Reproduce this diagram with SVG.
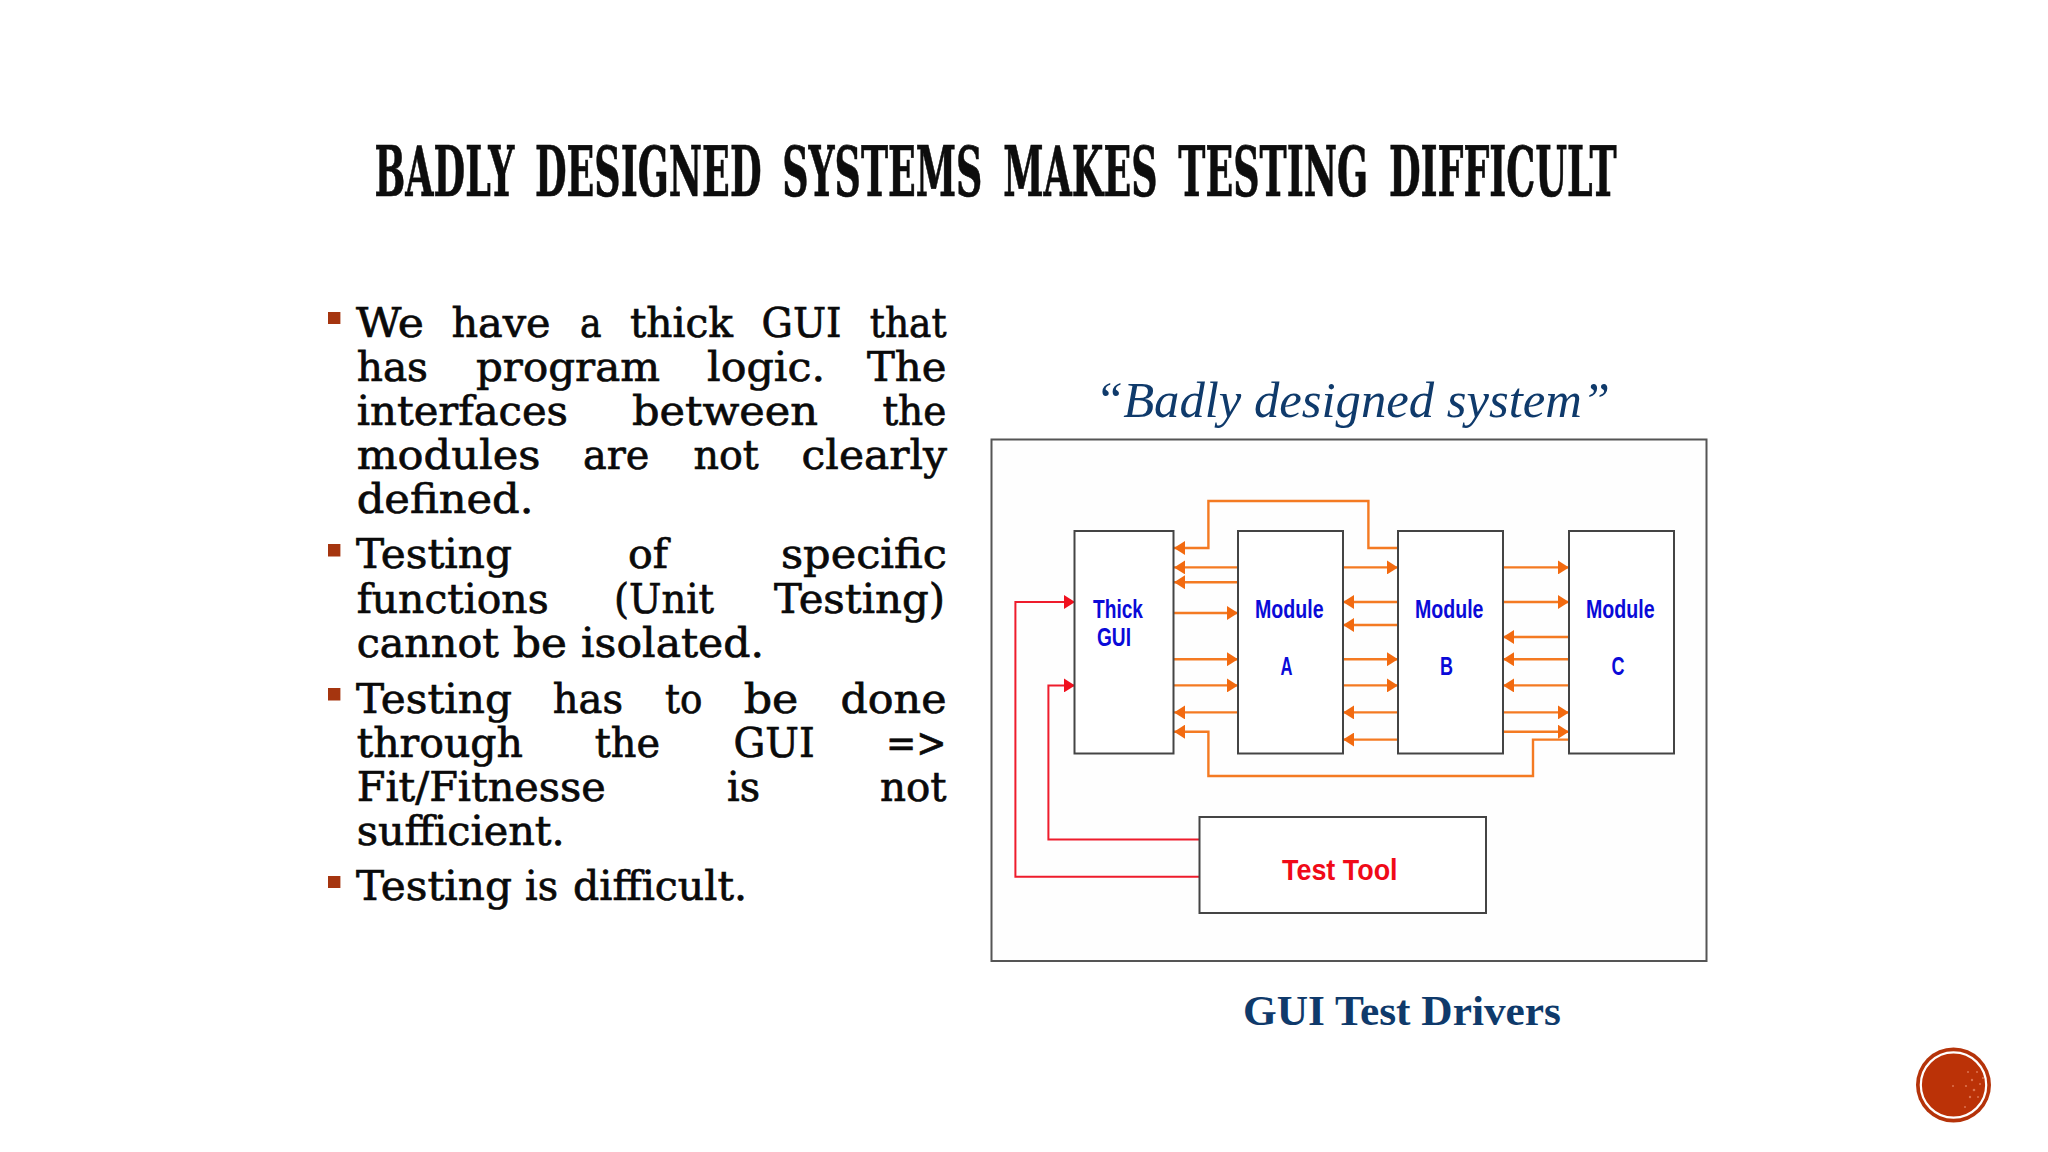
<svg xmlns="http://www.w3.org/2000/svg" width="2048" height="1152" viewBox="0 0 2048 1152">
<style>
.t{font-family:"DejaVu Serif",serif;font-weight:700;font-stretch:condensed;font-size:70px;fill:#0d0d0d;stroke:#0d0d0d;stroke-width:.7;word-spacing:14px}
.b{font-family:"DejaVu Serif",serif;font-size:41px;fill:#0a0a0a;stroke:#0a0a0a;stroke-width:.7}
.bu{fill:#a5350f}
.box{fill:#fff;stroke:#444;stroke-width:2}
.l{font-family:"Liberation Sans",Arial,sans-serif;font-weight:700;font-size:25px;fill:#0a0ad8}
.o{fill:none;stroke:#f47a22;stroke-width:2.4}
.r{fill:none;stroke:#ee1c2c;stroke-width:2}
.cap{font-family:"Liberation Serif","Times New Roman",serif;fill:#0f3a6b}
</style>
<defs>
<marker id="ao" markerUnits="userSpaceOnUse" markerWidth="12" markerHeight="14" refX="11" refY="7" orient="auto"><path d="M0 0L11 7L0 14Z" fill="#f26a10"/></marker>
<marker id="ar" markerUnits="userSpaceOnUse" markerWidth="12" markerHeight="14" refX="11" refY="7" orient="auto"><path d="M0 0L11 7L0 14Z" fill="#f0101e"/></marker>
</defs>
<rect width="2048" height="1152" fill="#fff"/>
<g id="title">
<text class="t" transform="translate(374.5 196) scale(.68 1)" x="0" y="0" textLength="1826.5" lengthAdjust="spacingAndGlyphs">BADLY DESIGNED SYSTEMS MAKES TESTING DIFFICULT</text>
</g>
<g id="bullets">
<rect class="bu" x="328" y="312" width="12.4" height="12"/>
<rect class="bu" x="328" y="544" width="12.4" height="12.5"/>
<rect class="bu" x="328" y="688" width="12.4" height="12.5"/>
<rect class="bu" x="328" y="876" width="12.4" height="12"/>
</g>
<g id="body">
<text class="b" y="336.7"><tspan x="356" textLength="68" lengthAdjust="spacingAndGlyphs">We</tspan> <tspan x="451.4" textLength="99.2" lengthAdjust="spacingAndGlyphs">have</tspan> <tspan x="580" textLength="21.6" lengthAdjust="spacingAndGlyphs">a</tspan> <tspan x="630" textLength="103" lengthAdjust="spacingAndGlyphs">thick</tspan> <tspan x="761.6" textLength="80" lengthAdjust="spacingAndGlyphs">GUI</tspan> <tspan x="869.8" textLength="76.7" lengthAdjust="spacingAndGlyphs">that</tspan></text>
<text class="b" y="381"><tspan x="356.7" textLength="71.3" lengthAdjust="spacingAndGlyphs">has</tspan> <tspan x="476" textLength="184" lengthAdjust="spacingAndGlyphs">program</tspan> <tspan x="707" textLength="118" lengthAdjust="spacingAndGlyphs">logic.</tspan> <tspan x="867" textLength="79.5" lengthAdjust="spacingAndGlyphs">The</tspan></text>
<text class="b" y="425"><tspan x="356.7" textLength="211.3" lengthAdjust="spacingAndGlyphs">interfaces</tspan> <tspan x="632" textLength="186" lengthAdjust="spacingAndGlyphs">between</tspan> <tspan x="882.4" textLength="64.1" lengthAdjust="spacingAndGlyphs">the</tspan></text>
<text class="b" y="469.3"><tspan x="356.7" textLength="183.7" lengthAdjust="spacingAndGlyphs">modules</tspan> <tspan x="583" textLength="66.4" lengthAdjust="spacingAndGlyphs">are</tspan> <tspan x="693.5" textLength="65.3" lengthAdjust="spacingAndGlyphs">not</tspan> <tspan x="801.6" textLength="145.4" lengthAdjust="spacingAndGlyphs">clearly</tspan></text>
<text class="b" y="513.3" x="356.7" textLength="176.8" lengthAdjust="spacingAndGlyphs">defined.</text>
<text class="b" y="568.3"><tspan x="356" textLength="156" lengthAdjust="spacingAndGlyphs">Testing</tspan> <tspan x="628" textLength="40" lengthAdjust="spacingAndGlyphs">of</tspan> <tspan x="781" textLength="166" lengthAdjust="spacingAndGlyphs">specific</tspan></text>
<text class="b" y="612.7"><tspan x="356.7" textLength="191.9" lengthAdjust="spacingAndGlyphs">functions</tspan> <tspan x="614" textLength="100" lengthAdjust="spacingAndGlyphs">(Unit</tspan> <tspan x="774" textLength="171" lengthAdjust="spacingAndGlyphs">Testing)</tspan></text>
<text class="b" y="657.3"><tspan x="356.7" textLength="142.1" lengthAdjust="spacingAndGlyphs">cannot</tspan> <tspan x="513" textLength="54" lengthAdjust="spacingAndGlyphs">be</tspan> <tspan x="581" textLength="183" lengthAdjust="spacingAndGlyphs">isolated.</tspan></text>
<text class="b" y="712.7"><tspan x="356" textLength="156" lengthAdjust="spacingAndGlyphs">Testing</tspan> <tspan x="552.7" textLength="70.3" lengthAdjust="spacingAndGlyphs">has</tspan> <tspan x="665" textLength="37.4" lengthAdjust="spacingAndGlyphs">to</tspan> <tspan x="743.7" textLength="54.7" lengthAdjust="spacingAndGlyphs">be</tspan> <tspan x="840.4" textLength="106.1" lengthAdjust="spacingAndGlyphs">done</tspan></text>
<text class="b" y="756.7"><tspan x="356.7" textLength="166.3" lengthAdjust="spacingAndGlyphs">through</tspan> <tspan x="594.7" textLength="65.3" lengthAdjust="spacingAndGlyphs">the</tspan> <tspan x="733.5" textLength="81.2" lengthAdjust="spacingAndGlyphs">GUI</tspan> <tspan x="886" textLength="60.5" lengthAdjust="spacingAndGlyphs">=&gt;</tspan></text>
<text class="b" y="801"><tspan x="356.7" textLength="249" lengthAdjust="spacingAndGlyphs">Fit/Fitnesse</tspan> <tspan x="727" textLength="33" lengthAdjust="spacingAndGlyphs">is</tspan> <tspan x="880" textLength="66.5" lengthAdjust="spacingAndGlyphs">not</tspan></text>
<text class="b" y="845" x="356.7" textLength="208" lengthAdjust="spacingAndGlyphs">sufficient.</text>
<text class="b" y="900"><tspan x="356" textLength="156" lengthAdjust="spacingAndGlyphs">Testing</tspan> <tspan x="525" textLength="33" lengthAdjust="spacingAndGlyphs">is</tspan> <tspan x="573" textLength="174" lengthAdjust="spacingAndGlyphs">difficult.</tspan></text>
</g>
<text id="caption" class="cap" x="1095" y="417" font-size="50" font-style="italic" textLength="515" lengthAdjust="spacingAndGlyphs">“Badly designed system”</text>
<rect id="frame" x="991.5" y="439.5" width="715" height="521.5" fill="#fefefe" stroke="#555" stroke-width="2"/>
<g id="connectors">
<g class="o">
<path class="o" marker-end="url(#ao)" d="M1398 548H1368.4V501H1208.4V548H1174"/>
<path class="o" marker-end="url(#ao)" d="M1569 739.6H1533V776H1208.4V731.7H1174"/>
<path class="o" marker-end="url(#ao)" d="M1238 567.4H1174"/>
<path class="o" marker-end="url(#ao)" d="M1238 582.2H1174"/>
<path class="o" marker-end="url(#ao)" d="M1174 613H1238"/>
<path class="o" marker-end="url(#ao)" d="M1174 659.2H1238"/>
<path class="o" marker-end="url(#ao)" d="M1174 685.4H1238"/>
<path class="o" marker-end="url(#ao)" d="M1238 712.4H1174"/>
<path class="o" marker-end="url(#ao)" d="M1343 567.4H1398"/>
<path class="o" marker-end="url(#ao)" d="M1398 602H1343"/>
<path class="o" marker-end="url(#ao)" d="M1398 625H1343"/>
<path class="o" marker-end="url(#ao)" d="M1343 659.2H1398"/>
<path class="o" marker-end="url(#ao)" d="M1343 685.4H1398"/>
<path class="o" marker-end="url(#ao)" d="M1398 712.4H1343"/>
<path class="o" marker-end="url(#ao)" d="M1398 739.6H1343"/>
<path class="o" marker-end="url(#ao)" d="M1503 567.4H1569"/>
<path class="o" marker-end="url(#ao)" d="M1503 602H1569"/>
<path class="o" marker-end="url(#ao)" d="M1569 637H1503"/>
<path class="o" marker-end="url(#ao)" d="M1569 659.2H1503"/>
<path class="o" marker-end="url(#ao)" d="M1569 685.4H1503"/>
<path class="o" marker-end="url(#ao)" d="M1503 712.4H1569"/>
<path class="o" marker-end="url(#ao)" d="M1503 731.7H1569"/>
</g>
<path class="r" marker-end="url(#ar)" d="M1199.4 876.7H1015.4V602H1075"/>
<path class="r" marker-end="url(#ar)" d="M1199.4 839.5H1048.4V685.4H1075"/>
</g>
<g id="thick-gui"><rect class="box" x="1074.5" y="531" width="99" height="222.5"/>
<text class="l" x="1093" y="617.5" textLength="50" lengthAdjust="spacingAndGlyphs">Thick</text>
<text class="l" x="1097" y="646" textLength="34" lengthAdjust="spacingAndGlyphs">GUI</text></g>
<g id="module-a"><rect class="box" x="1238" y="531" width="105" height="222.5"/>
<text class="l" x="1255" y="617.5" textLength="68.6" lengthAdjust="spacingAndGlyphs">Module</text>
<text class="l" x="1280.6" y="674.5" textLength="12" lengthAdjust="spacingAndGlyphs">A</text></g>
<g id="module-b"><rect class="box" x="1398" y="531" width="105" height="222.5"/>
<text class="l" x="1415" y="617.5" textLength="68.5" lengthAdjust="spacingAndGlyphs">Module</text>
<text class="l" x="1440" y="674.5" textLength="13" lengthAdjust="spacingAndGlyphs">B</text></g>
<g id="module-c"><rect class="box" x="1569" y="531" width="105" height="222.5"/>
<text class="l" x="1586" y="617.5" textLength="68.6" lengthAdjust="spacingAndGlyphs">Module</text>
<text class="l" x="1611.4" y="674.5" textLength="13" lengthAdjust="spacingAndGlyphs">C</text></g>
<g id="test-tool"><rect class="box" x="1199.5" y="817" width="286.5" height="96"/>
<text class="l" x="1282" y="880" style="font-size:30px;fill:#f00a18" textLength="115.6" lengthAdjust="spacingAndGlyphs">Test Tool</text></g>
<text id="figure-label" class="cap" x="1243" y="1025" font-size="42" font-weight="700" textLength="318" lengthAdjust="spacingAndGlyphs">GUI Test Drivers</text>
<g id="badge">
<circle cx="1953.5" cy="1085" r="37.5" fill="#b5330a"/>
<circle cx="1953.5" cy="1085" r="32.7" fill="#bb3207" stroke="#fff" stroke-width="2.2"/>
<g fill="#e88a68" opacity=".75">
<circle cx="1968" cy="1072" r="1"/><circle cx="1972" cy="1080" r="1.2"/><circle cx="1977" cy="1072" r="1"/><circle cx="1966" cy="1086" r="1.1"/><circle cx="1974" cy="1090" r="1.3"/><circle cx="1980" cy="1084" r="1"/><circle cx="1970" cy="1097" r="1.2"/><circle cx="1978" cy="1097" r="1"/><circle cx="1983" cy="1078" r="1"/><circle cx="1953" cy="1086" r="1"/><circle cx="1965" cy="1107" r="1"/>
</g>
</g>
</svg>
